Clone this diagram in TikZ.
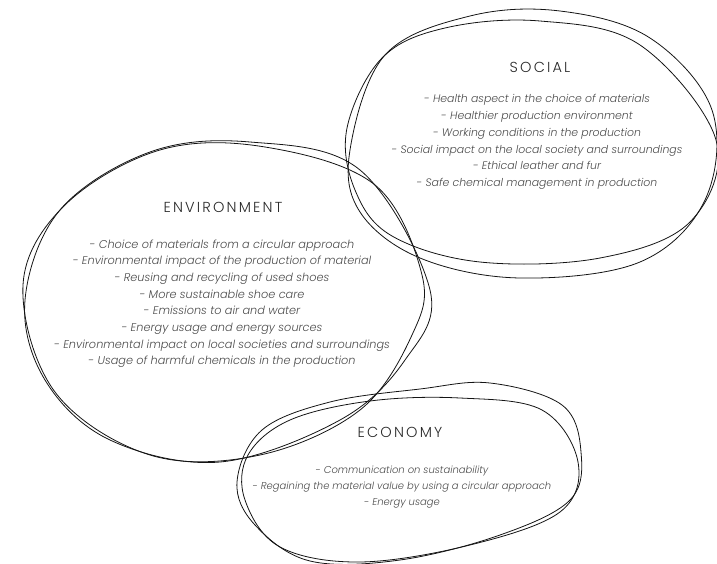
\documentclass[tikz,border=0pt]{standalone}
\usepackage{fontspec}
\setmainfont{Poppins}[UprightFont=* Light, ItalicFont=* Light Italic]
\newfontfamily\titlefont{Poppins}[UprightFont=* Light, LetterSpace=15]
\usepackage{tikz}
\definecolor{inkline}{RGB}{20, 20, 20}
\definecolor{titlegray}{RGB}{40, 40, 40}
\definecolor{itemgray}{RGB}{75, 75, 75}
\tikzset{
  loop/.style={draw=inkline, line width=0.8pt},
  areatitle/.style={font=\titlefont\fontsize{14.5}{16}\selectfont, text=titlegray},
  arealist/.style={font=\itshape\fontsize{10.9}{16.8}\selectfont, text=itemgray, align=center}
}

\begin{document}
\begin{tikzpicture}[x=1pt, y=-1pt]
  \useasboundingbox (0,0) rectangle (717,564);

  % Social loops
  \draw[loop] plot[smooth cycle, tension=0.6] coordinates {(350,150) (385,55) (470,16) (560,11) (650,38) (712,110) (705,200) (640,262) (520,278) (420,258) (360,212)};
  \draw[loop] plot[smooth cycle, tension=0.6] coordinates {(347,128) (382,58) (445,28) (540,21) (640,45) (716,140) (690,222) (600,258) (480,262) (392,236) (355,190)};

  % Environment loops
  \draw[loop] plot[smooth cycle, tension=0.6] coordinates {(25,300) (60,210) (150,152) (250,142) (360,170) (430,290) (405,360) (340,420) (220,462) (110,440) (45,380)};
  \draw[loop] plot[smooth cycle, tension=0.6] coordinates {(23,285) (65,205) (160,150) (265,147) (375,185) (422,275) (412,335) (360,410) (260,455) (150,455) (55,392)};

  % Economy loops
  \draw[loop] plot[smooth cycle, tension=0.6] coordinates {(237,482) (262,430) (330,402) (420,389) (490,383) (562,405) (581,452) (570,500) (500,535) (400,560) (310,561) (255,525)};
  \draw[loop] plot[smooth cycle, tension=0.6] coordinates {(248,455) (290,420) (370,401) (460,398) (542,410) (578,462) (560,512) (470,545) (360,562) (280,547) (245,500)};

  % Titles
  \node[areatitle] (social) at (540,67) {SOCIAL};
  \node[areatitle] (environment) at (223,207) {ENVIRONMENT};
  \node[areatitle] (economy) at (400,432) {ECONOMY};

  % Item lists
  \node[arealist, anchor=north] (sociallist) at (537,91) {%
    - Health aspect in the choice of materials\\
    - Healthier production environment\\
    - Working conditions in the production\\
    - Social impact on the local society and surroundings\\
    - Ethical leather and fur\\
    - Safe chemical management in production};
  \node[arealist, anchor=north, font=\itshape\fontsize{11.3}{16.7}\selectfont] (environmentlist) at (222,236) {%
    - Choice of materials from a circular approach\\
    - Environmental impact of the production of material\\
    - Reusing and recycling of used shoes\\
    - More sustainable shoe care\\
    - Emissions to air and water\\
    - Energy usage and energy sources\\
    - Environmental impact on local societies and surroundings\\
    - Usage of harmful chemicals in the production};
  \node[arealist, anchor=north, font=\itshape\fontsize{10}{16}\selectfont] (economylist) at (402,462) {%
    - Communication on sustainability\\
    - Regaining the material value by using a circular approach\\
    - Energy usage};
\end{tikzpicture}
\end{document}
